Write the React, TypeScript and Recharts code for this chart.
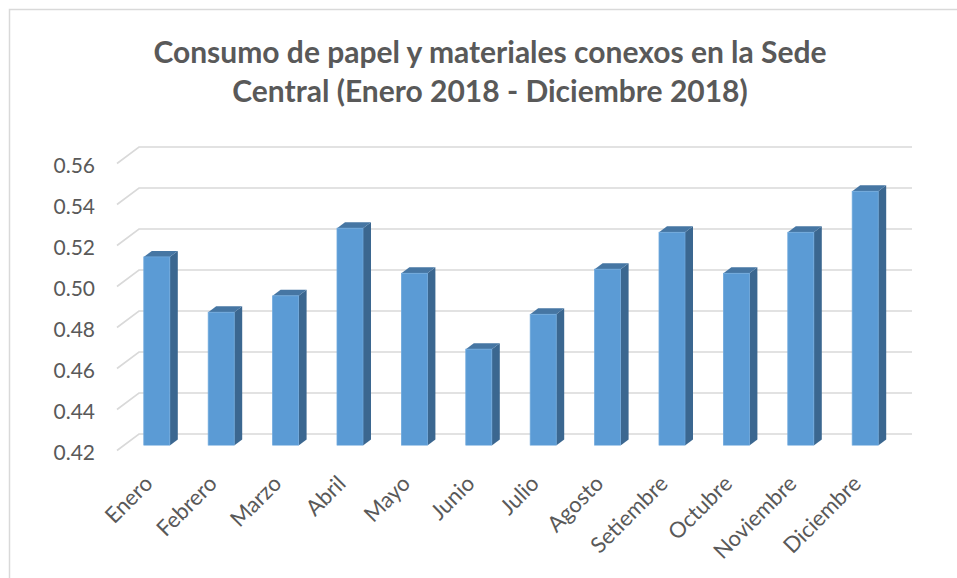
import { Bar, BarChart, CartesianGrid, XAxis, YAxis } from "recharts";

const MONTHS = [
  "Enero",
  "Febrero",
  "Marzo",
  "Abril",
  "Mayo",
  "Junio",
  "Julio",
  "Agosto",
  "Setiembre",
  "Octubre",
  "Noviembre",
  "Diciembre",
];
const CONSUMO = [0.512, 0.485, 0.493, 0.526, 0.504, 0.467, 0.484, 0.506, 0.524, 0.504, 0.524, 0.544];
const Y_TICKS = [0.42, 0.44, 0.46, 0.48, 0.5, 0.52, 0.54, 0.56];
const TITLE = ["Consumo de papel y materiales conexos en la Sede", "Central (Enero 2018 - Diciembre 2018)"];

const data = MONTHS.map((mes, i) => ({ mes, consumo: CONSUMO[i] }));

const W = 957;
const H = 578;
const FONT = "Lato, 'Open Sans', sans-serif";
const TEXT = "#595959";
const GRID = "#d9d9d9";
// fake 3D depth of the Excel-style bars
const DX = 8;
const DY = 6;

// back-wall gridline with the short slanted piece on the left side wall
function GridLine(p: any) {
  const y = p.y1;
  return (
    <polyline
      key={p.key}
      points={`117,${y + 5} 139,${y - 11.5} 912,${y - 11.5}`}
      fill="none"
      stroke={GRID}
      strokeWidth={1.6}
    />
  );
}

function Box(p: any) {
  const { x, y, width, height } = p;
  if (height <= 0) return null;
  const b = y + height;
  return (
    <g>
      <polygon
        points={`${x + width},${y} ${x + width + DX},${y - DY} ${x + width + DX},${b - DY} ${x + width},${b}`}
        fill="#3b6790"
      />
      <polygon
        points={`${x},${y} ${x + DX},${y - DY} ${x + width + DX},${y - DY} ${x + width},${y}`}
        fill="#4676a3"
      />
      <rect x={x} y={y} width={width} height={height} fill="#5b9bd5" stroke="#6fa8dc" strokeWidth={0.8} />
    </g>
  );
}

function YTick(p: any) {
  return (
    <text
      x={95}
      y={p.y + 6}
      textAnchor="end"
      dominantBaseline="central"
      fontFamily={FONT}
      fontSize={21}
      fill={TEXT}
    >
      {Number(p.payload.value).toFixed(2)}
    </text>
  );
}

function XTick(p: any) {
  const ax = p.x - 3;
  const ay = 485;
  return (
    <text
      x={ax}
      y={ay}
      textAnchor="end"
      transform={`rotate(-45, ${ax}, ${ay})`}
      fontFamily={FONT}
      fontSize={22}
      fill={TEXT}
    >
      {p.payload.value}
    </text>
  );
}

export default function App() {
  return (
    <div style={{ position: "absolute", left: 0, top: 0, width: W, height: H, background: "#fff", overflow: "hidden" }}>
      <svg width={W} height={H} style={{ position: "absolute", left: 0, top: 0 }}>
        <rect x={9.5} y={9.5} width={1000} height={700} fill="none" stroke={GRID} strokeWidth={1.5} />
        {TITLE.map((line, i) => (
          <text
            key={line}
            x={490}
            y={63 + i * 39}
            textAnchor="middle"
            fontFamily={FONT}
            fontWeight="bold"
            fontSize={30}
            fill={TEXT}
          >
            {line}
          </text>
        ))}
      </svg>
      <div style={{ position: "absolute", left: 0, top: 0 }}>
        <BarChart
          width={W}
          height={H}
          data={data}
          margin={{ top: 158.5, right: 59.4, bottom: 32.5, left: 0 }}
          barSize={26}
        >
          <CartesianGrid vertical={false} horizontal={GridLine} />
          <XAxis
            dataKey="mes"
            axisLine={false}
            tickLine={false}
            interval={0}
            height={100}
            tick={XTick}
          />
          <YAxis
            domain={[0.42, 0.56]}
            ticks={Y_TICKS}
            allowDataOverflow
            axisLine={false}
            tickLine={false}
            width={124.8}
            tick={YTick}
          />
          <Bar dataKey="consumo" shape={Box} isAnimationActive={false} />
        </BarChart>
      </div>
    </div>
  );
}
